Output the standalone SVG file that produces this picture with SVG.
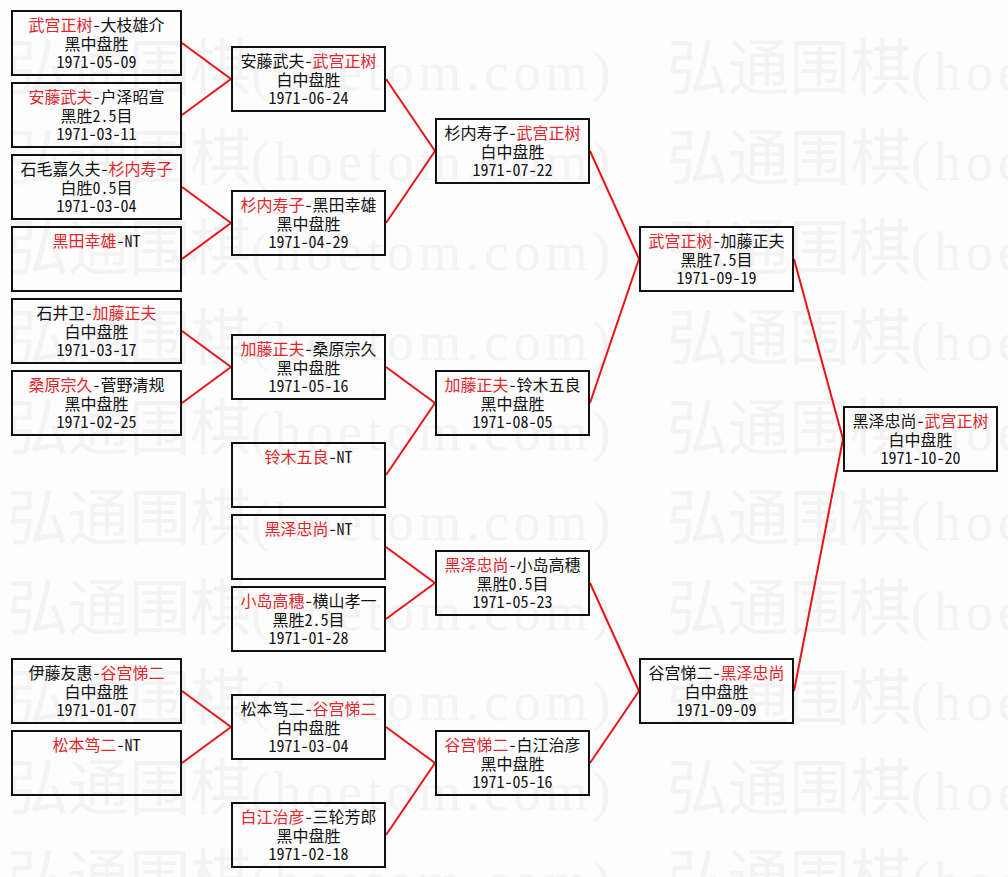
<svg xmlns="http://www.w3.org/2000/svg" width="1008" height="877" viewBox="0 0 1008 877">
<style>
.bg{fill:#fdfdfd}
.wm{font-family:"Noto Sans CJK SC",sans-serif;font-size:61px;fill:#f3f3f3}
.wm tspan{font-family:"Liberation Serif",serif;font-size:54px;letter-spacing:5px}
.box{fill:none;stroke:#111;stroke-width:2}
.t{font-family:"Noto Sans Mono CJK SC","Noto Sans CJK SC",sans-serif;font-size:16px;fill:#111;text-anchor:middle}
.r{fill:#e0262c}
.c line{stroke:#e81414;stroke-width:2}
</style>
<rect class="bg" x="0" y="0" width="1008" height="877"/>
<g id="watermark" class="wm">
<text x="7" y="90">弘通围棋<tspan>(hoetom.com)</tspan></text><text x="667" y="90">弘通围棋<tspan>(hoetom.com)</tspan></text>
<text x="7" y="180">弘通围棋<tspan>(hoetom.com)</tspan></text><text x="667" y="180">弘通围棋<tspan>(hoetom.com)</tspan></text>
<text x="7" y="270">弘通围棋<tspan>(hoetom.com)</tspan></text><text x="667" y="270">弘通围棋<tspan>(hoetom.com)</tspan></text>
<text x="7" y="360">弘通围棋<tspan>(hoetom.com)</tspan></text><text x="667" y="360">弘通围棋<tspan>(hoetom.com)</tspan></text>
<text x="7" y="450">弘通围棋<tspan>(hoetom.com)</tspan></text><text x="667" y="450">弘通围棋<tspan>(hoetom.com)</tspan></text>
<text x="7" y="540">弘通围棋<tspan>(hoetom.com)</tspan></text><text x="667" y="540">弘通围棋<tspan>(hoetom.com)</tspan></text>
<text x="7" y="630">弘通围棋<tspan>(hoetom.com)</tspan></text><text x="667" y="630">弘通围棋<tspan>(hoetom.com)</tspan></text>
<text x="7" y="720">弘通围棋<tspan>(hoetom.com)</tspan></text><text x="667" y="720">弘通围棋<tspan>(hoetom.com)</tspan></text>
<text x="7" y="810">弘通围棋<tspan>(hoetom.com)</tspan></text><text x="667" y="810">弘通围棋<tspan>(hoetom.com)</tspan></text>
<text x="7" y="900">弘通围棋<tspan>(hoetom.com)</tspan></text><text x="667" y="900">弘通围棋<tspan>(hoetom.com)</tspan></text>
</g>
<g id="connectors" class="c">
<line x1="182" y1="43" x2="231" y2="79"/>
<line x1="182" y1="115" x2="231" y2="79"/>
<line x1="182" y1="187" x2="231" y2="223"/>
<line x1="182" y1="259" x2="231" y2="223"/>
<line x1="182" y1="331" x2="231" y2="367"/>
<line x1="182" y1="403" x2="231" y2="367"/>
<line x1="182" y1="691" x2="231" y2="727"/>
<line x1="182" y1="763" x2="231" y2="727"/>
<line x1="386" y1="79" x2="435" y2="151"/>
<line x1="386" y1="223" x2="435" y2="151"/>
<line x1="386" y1="367" x2="435" y2="403"/>
<line x1="386" y1="475" x2="435" y2="403"/>
<line x1="386" y1="547" x2="435" y2="583"/>
<line x1="386" y1="619" x2="435" y2="583"/>
<line x1="386" y1="727" x2="435" y2="763"/>
<line x1="386" y1="835" x2="435" y2="763"/>
<line x1="590" y1="151" x2="639" y2="259"/>
<line x1="590" y1="403" x2="639" y2="259"/>
<line x1="590" y1="583" x2="639" y2="691"/>
<line x1="590" y1="763" x2="639" y2="691"/>
<line x1="794" y1="259" x2="843" y2="439"/>
<line x1="794" y1="691" x2="843" y2="439"/>
</g>
<g id="r1-1"><rect class="box" x="12" y="11" width="169" height="64"/><text class="t" x="96.5" y="31"><tspan class="r">武宫正树</tspan>-大枝雄介</text><text class="t" x="96.5" y="50">黑中盘胜</text><text class="t" x="96.5" y="68">1971-05-09</text></g>
<g id="r1-2"><rect class="box" x="12" y="83" width="169" height="64"/><text class="t" x="96.5" y="103"><tspan class="r">安藤武夫</tspan>-户泽昭宣</text><text class="t" x="96.5" y="122">黑胜2.5目</text><text class="t" x="96.5" y="140">1971-03-11</text></g>
<g id="r1-3"><rect class="box" x="12" y="155" width="169" height="64"/><text class="t" x="96.5" y="175">石毛嘉久夫-<tspan class="r">杉内寿子</tspan></text><text class="t" x="96.5" y="194">白胜0.5目</text><text class="t" x="96.5" y="212">1971-03-04</text></g>
<g id="r1-4"><rect class="box" x="12" y="227" width="169" height="64"/><text class="t" x="96.5" y="247"><tspan class="r">黑田幸雄</tspan>-NT</text></g>
<g id="r1-5"><rect class="box" x="12" y="299" width="169" height="64"/><text class="t" x="96.5" y="319">石井卫-<tspan class="r">加藤正夫</tspan></text><text class="t" x="96.5" y="338">白中盘胜</text><text class="t" x="96.5" y="356">1971-03-17</text></g>
<g id="r1-6"><rect class="box" x="12" y="371" width="169" height="64"/><text class="t" x="96.5" y="391"><tspan class="r">桑原宗久</tspan>-菅野清规</text><text class="t" x="96.5" y="410">黑中盘胜</text><text class="t" x="96.5" y="428">1971-02-25</text></g>
<g id="r1-7"><rect class="box" x="12" y="659" width="169" height="64"/><text class="t" x="96.5" y="679">伊藤友惠-<tspan class="r">谷宫悌二</tspan></text><text class="t" x="96.5" y="698">白中盘胜</text><text class="t" x="96.5" y="716">1971-01-07</text></g>
<g id="r1-8"><rect class="box" x="12" y="731" width="169" height="64"/><text class="t" x="96.5" y="751"><tspan class="r">松本笃二</tspan>-NT</text></g>
<g id="r2-1"><rect class="box" x="232" y="47" width="153" height="64"/><text class="t" x="308.5" y="67">安藤武夫-<tspan class="r">武宫正树</tspan></text><text class="t" x="308.5" y="86">白中盘胜</text><text class="t" x="308.5" y="104">1971-06-24</text></g>
<g id="r2-2"><rect class="box" x="232" y="191" width="153" height="64"/><text class="t" x="308.5" y="211"><tspan class="r">杉内寿子</tspan>-黑田幸雄</text><text class="t" x="308.5" y="230">黑中盘胜</text><text class="t" x="308.5" y="248">1971-04-29</text></g>
<g id="r2-3"><rect class="box" x="232" y="335" width="153" height="64"/><text class="t" x="308.5" y="355"><tspan class="r">加藤正夫</tspan>-桑原宗久</text><text class="t" x="308.5" y="374">黑中盘胜</text><text class="t" x="308.5" y="392">1971-05-16</text></g>
<g id="r2-4"><rect class="box" x="232" y="443" width="153" height="64"/><text class="t" x="308.5" y="463"><tspan class="r">铃木五良</tspan>-NT</text></g>
<g id="r2-5"><rect class="box" x="232" y="515" width="153" height="64"/><text class="t" x="308.5" y="535"><tspan class="r">黑泽忠尚</tspan>-NT</text></g>
<g id="r2-6"><rect class="box" x="232" y="587" width="153" height="64"/><text class="t" x="308.5" y="607"><tspan class="r">小岛高穗</tspan>-横山孝一</text><text class="t" x="308.5" y="626">黑胜2.5目</text><text class="t" x="308.5" y="644">1971-01-28</text></g>
<g id="r2-7"><rect class="box" x="232" y="695" width="153" height="64"/><text class="t" x="308.5" y="715">松本笃二-<tspan class="r">谷宫悌二</tspan></text><text class="t" x="308.5" y="734">白中盘胜</text><text class="t" x="308.5" y="752">1971-03-04</text></g>
<g id="r2-8"><rect class="box" x="232" y="803" width="153" height="64"/><text class="t" x="308.5" y="823"><tspan class="r">白江治彦</tspan>-三轮芳郎</text><text class="t" x="308.5" y="842">黑中盘胜</text><text class="t" x="308.5" y="860">1971-02-18</text></g>
<g id="r3-1"><rect class="box" x="436" y="119" width="153" height="64"/><text class="t" x="512.5" y="139">杉内寿子-<tspan class="r">武宫正树</tspan></text><text class="t" x="512.5" y="158">白中盘胜</text><text class="t" x="512.5" y="176">1971-07-22</text></g>
<g id="r3-2"><rect class="box" x="436" y="371" width="153" height="64"/><text class="t" x="512.5" y="391"><tspan class="r">加藤正夫</tspan>-铃木五良</text><text class="t" x="512.5" y="410">黑中盘胜</text><text class="t" x="512.5" y="428">1971-08-05</text></g>
<g id="r3-3"><rect class="box" x="436" y="551" width="153" height="64"/><text class="t" x="512.5" y="571"><tspan class="r">黑泽忠尚</tspan>-小岛高穗</text><text class="t" x="512.5" y="590">黑胜0.5目</text><text class="t" x="512.5" y="608">1971-05-23</text></g>
<g id="r3-4"><rect class="box" x="436" y="731" width="153" height="64"/><text class="t" x="512.5" y="751"><tspan class="r">谷宫悌二</tspan>-白江治彦</text><text class="t" x="512.5" y="770">黑中盘胜</text><text class="t" x="512.5" y="788">1971-05-16</text></g>
<g id="r4-1"><rect class="box" x="640" y="227" width="153" height="64"/><text class="t" x="716.5" y="247"><tspan class="r">武宫正树</tspan>-加藤正夫</text><text class="t" x="716.5" y="266">黑胜7.5目</text><text class="t" x="716.5" y="284">1971-09-19</text></g>
<g id="r4-2"><rect class="box" x="640" y="659" width="153" height="64"/><text class="t" x="716.5" y="679">谷宫悌二-<tspan class="r">黑泽忠尚</tspan></text><text class="t" x="716.5" y="698">白中盘胜</text><text class="t" x="716.5" y="716">1971-09-09</text></g>
<g id="final"><rect class="box" x="844" y="407" width="153" height="64"/><text class="t" x="920.5" y="427">黑泽忠尚-<tspan class="r">武宫正树</tspan></text><text class="t" x="920.5" y="446">白中盘胜</text><text class="t" x="920.5" y="464">1971-10-20</text></g>
</svg>
